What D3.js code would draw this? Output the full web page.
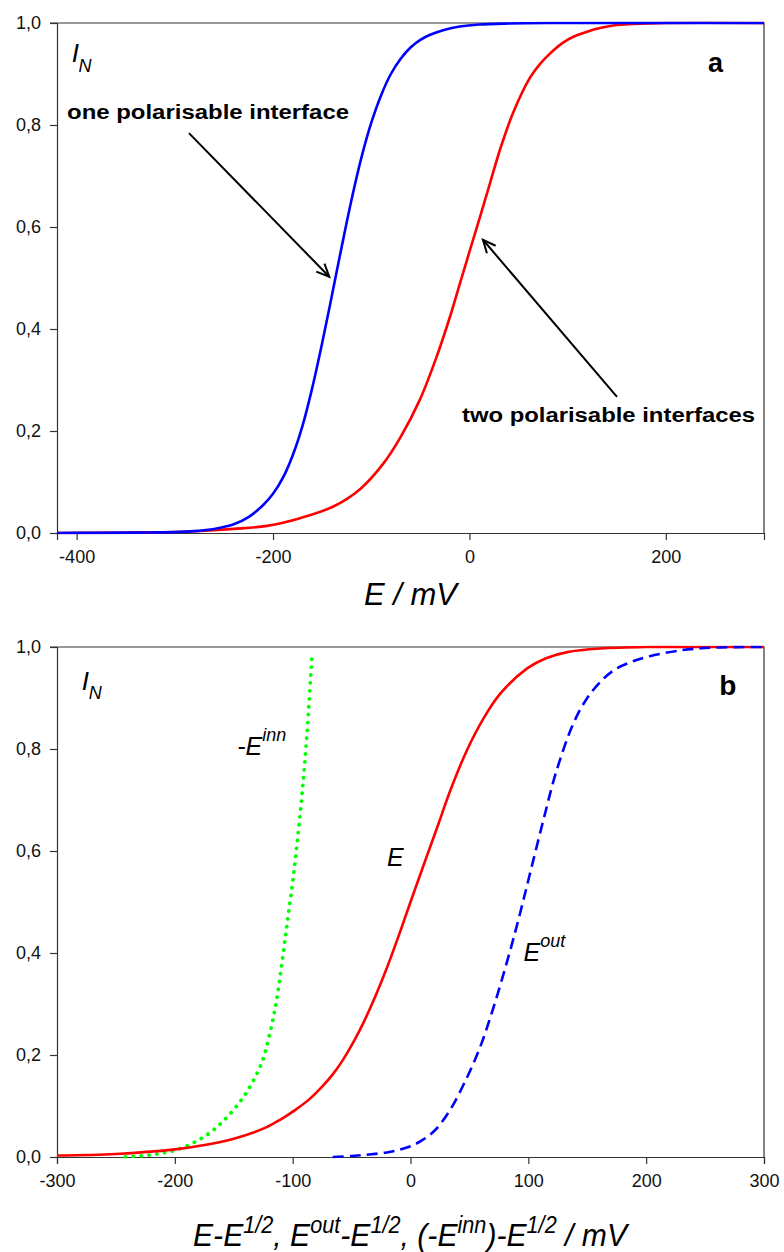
<!DOCTYPE html>
<html><head><meta charset="utf-8">
<script src="https://cdn.jsdelivr.net/npm/d3@7"></script>
<style>body{margin:0;background:#fff}svg{display:block}text{font-family:"Liberation Sans",Arial,sans-serif}</style>
</head><body><svg id="c" width="784" height="1252"></svg>
<script>
// ---------- data ----------
// panel a: normalised current vs E / mV
const oneIfE = [-420,-380,-340,-300,-280,-260,-240,-225,-210,-200,-190,-180,-170,-160,-150,-140,-130,-120,-110,-100,-90,-80,-70,-60,-50,-40,-25,-10,10,40,80,300];
const oneIfI = [0,0.0003,0.0008,0.0017,0.0037,0.008,0.017,0.031,0.055,0.077,0.108,0.152,0.21,0.285,0.372,0.466,0.562,0.654,0.736,0.804,0.858,0.9,0.93,0.952,0.967,0.977,0.987,0.993,0.997,0.999,1,1];
const twoIfE = [-420,-350,-300,-274,-240,-206,-172.5,-138.6,-111.4,-87.7,-70.7,-50.3,-33.3,-19.8,-8.5,0.6,10.8,21,31.2,44.7,61.7,72,82,95,105.8,120,133,150,166,200,300];
const twoIfI = [0,0.001,0.002,0.004,0.008,0.014,0.029,0.052,0.086,0.136,0.186,0.262,0.346,0.424,0.497,0.555,0.62,0.686,0.752,0.825,0.893,0.92,0.94,0.961,0.973,0.983,0.99,0.996,0.998,1,1];
// panel b
const eX = [-300,-250,-200,-178.6,-150,-123.5,-110,-98,-86,-75,-66,-57.7,-48,-40,-30,-20,-10,0,12,24,34,48,62,76,99,115,133,161,200,250,300];
const eI = [0.003,0.006,0.015,0.022,0.036,0.057,0.074,0.092,0.113,0.138,0.162,0.189,0.227,0.263,0.314,0.371,0.434,0.5,0.578,0.655,0.72,0.798,0.86,0.908,0.958,0.978,0.99,0.997,1,1,1];
const outX = [-66,-50,-35,-20,-10,0,10,21,33.5,46.3,59,70,84,93,101,112.7,124,138.2,150,163,175,190,203,231,260,300];
const outI = [0,0.002,0.005,0.009,0.014,0.021,0.033,0.053,0.092,0.148,0.215,0.29,0.4,0.478,0.552,0.66,0.758,0.85,0.9,0.936,0.958,0.973,0.982,0.994,0.999,1];
const innX = [-242,-230,-221,-210,-200,-185,-170,-157.4,-146.8,-140.5,-134,-128.6,-124.7,-115,-108,-104,-100,-96,-92.5,-89.5,-86.7,-83.5];
const innI = [0,0.002,0.004,0.008,0.013,0.027,0.048,0.074,0.102,0.122,0.147,0.172,0.195,0.29,0.4,0.47,0.54,0.62,0.70,0.78,0.87,0.99];
// ticks
const yTicks = [0,0.2,0.4,0.6,0.8,1.0];
const xTicksA = [-400,-200,0,200];
const xTicksB = [-300,-200,-100,0,100,200,300];

const svg = d3.select("#c");
const fmtY = d => d3.format(".1f")(d).replace(".", ",");
let clipN = 0;

function panel(xDom, yRange, xTicks) {
  const x = d3.scaleLinear().domain(xDom).range([57, 764]);
  const y = d3.scaleLinear().domain([0, 1]).range(yRange);
  const g = svg.append("g");
  const id = "clip" + (clipN++);
  svg.append("clipPath").attr("id", id).append("rect")
    .attr("x", 57).attr("y", yRange[1] - 1.5).attr("width", 709).attr("height", yRange[0] - yRange[1] + 3);
  const ya = g.append("g").attr("transform", `translate(57,0)`)
    .call(d3.axisLeft(y).tickValues(yTicks).tickFormat(fmtY).tickSize(7).tickPadding(9));
  const xa = g.append("g").attr("transform", `translate(0,${yRange[0]})`)
    .call(d3.axisBottom(x).tickValues(xTicks).tickFormat(d3.format("d")).tickSize(7).tickPadding(10));
  [ya, xa].forEach(a => {
    a.select(".domain").attr("stroke", "#333").attr("stroke-width", 1.2);
    a.selectAll(".tick line").attr("stroke", "#333").attr("stroke-width", 1.2);
    a.selectAll(".tick text").attr("font-size", 18).attr("fill", "#111").attr("font-family", '"Liberation Sans",Arial,sans-serif');
  });
  xa.selectAll(".tick text").text(d => d < 0 ? "-" + Math.abs(d) : d);
  g.append("path").attr("d", `M50,${yRange[1]}H764V${yRange[0]}`).attr("fill", "none")
    .attr("stroke", "#333").attr("stroke-width", 1.2);
  const plot = g.append("g").attr("clip-path", `url(#${id})`);
  return {x, y, g, plot};
}

function curve(p, xs, ys, color, dash, width, cap) {
  const pts = xs.map((v, i) => [v, ys[i]]);
  const line = d3.line().x(d => p.x(d[0])).y(d => p.y(d[1])).curve(d3.curveCatmullRom.alpha(0.5));
  const path = p.plot.append("path").attr("d", line(pts)).attr("fill", "none")
    .attr("stroke", color).attr("stroke-width", width);
  if (dash) path.attr("stroke-dasharray", dash);
  if (cap) path.attr("stroke-linecap", cap);
}

function arrow(p, x0, y0, x1, y1) {
  const X0 = p.x(x0), Y0 = p.y(y0), X1 = p.x(x1), Y1 = p.y(y1);
  p.g.append("line").attr("x1", X0).attr("y1", Y0).attr("x2", X1).attr("y2", Y1)
    .attr("stroke", "#000").attr("stroke-width", 2);
  const a = Math.atan2(Y1 - Y0, X1 - X0), L = 14, w = 0.42;
  const p1 = [X1 - L * Math.cos(a - w), Y1 - L * Math.sin(a - w)];
  const p2 = [X1 - L * Math.cos(a + w), Y1 - L * Math.sin(a + w)];
  p.g.append("path").attr("d", `M${p1}L${X1},${Y1}L${p2}`).attr("fill", "none")
    .attr("stroke", "#000").attr("stroke-width", 2);
}

function txt(p, x, y, str, opts) {
  const t = p.g.append("text").attr("x", p.x(x)).attr("y", p.y(y)).attr("fill", "#000")
    .attr("font-size", opts.size).text(str);
  if (opts.bold) t.attr("font-weight", "bold");
  if (opts.italic) t.attr("font-style", "italic");
  return t;
}

// ---------- panel a ----------
const A = panel([-420, 300], [533, 23], xTicksA);
curve(A, twoIfE, twoIfI, "#ff0000", null, 2.6);
curve(A, oneIfE, oneIfI, "#0000ff", null, 2.6);
arrow(A, -285.6, 0.784, -142.7, 0.5025);
arrow(A, 150.3, 0.267, 13.8, 0.575);
txt(A, -409.8, 0.812, "one polarisable interface", {size: 19.5, bold: true}).attr("textLength", 282).attr("lengthAdjust", "spacingAndGlyphs");
txt(A, -7.6, 0.218, "two polarisable interfaces", {size: 19.5, bold: true}).attr("textLength", 293).attr("lengthAdjust", "spacingAndGlyphs");
txt(A, 243, 0.904, "a", {size: 27, bold: true});
txt(A, -405, 0.924, "I", {size: 26, italic: true});
txt(A, -398, 0.904, "N", {size: 18, italic: true});
A.g.append("text").attr("x", 364).attr("y", 605).attr("font-size", 31).attr("font-style", "italic")
  .attr("textLength", 93).attr("lengthAdjust", "spacingAndGlyphs").text("E / mV");

// ---------- panel b ----------
const B = panel([-300, 300], [1157, 647], xTicksB);
curve(B, innX, innI, "#00ff00", "0.1 7.8", 3.8, "round");
curve(B, eX, eI, "#ff0000", null, 2.6);
curve(B, outX, outI, "#0000ff", "11 6", 2.6);
txt(B, 262, 0.905, "b", {size: 28, bold: true});
txt(B, -279, 0.915, "I", {size: 26, italic: true});
txt(B, -273, 0.898, "N", {size: 18, italic: true});
const t1 = txt(B, -147, 0.788, "-E", {size: 25, italic: true});
t1.append("tspan").attr("dy", -14).attr("font-size", 18).text("inn");
txt(B, -20, 0.57, "E", {size: 25, italic: true});
const t2 = txt(B, 96, 0.385, "E", {size: 25, italic: true});
t2.append("tspan").attr("dy", -14).attr("font-size", 18).text("out");
const tb = B.g.append("text").attr("x", 193).attr("y", 1246).attr("font-size", 32).attr("font-style", "italic")
  .attr("textLength", 434).attr("lengthAdjust", "spacingAndGlyphs");
const parts = [["E-E",0],["1/2",1],[", E",0],["out",1],["-E",0],["1/2",1],[", (-E",0],["inn",1],[")-E",0],["1/2",1],[" / mV",0]];
let sup = false;
parts.forEach(([s, isSup]) => {
  const sp = tb.append("tspan").text(s);
  if (isSup && !sup) { sp.attr("dy", -13).attr("font-size", 23); sup = true; }
  else if (isSup) { sp.attr("font-size", 23); }
  else if (!isSup && sup) { sp.attr("dy", 13); sup = false; }
});
</script></body></html>
